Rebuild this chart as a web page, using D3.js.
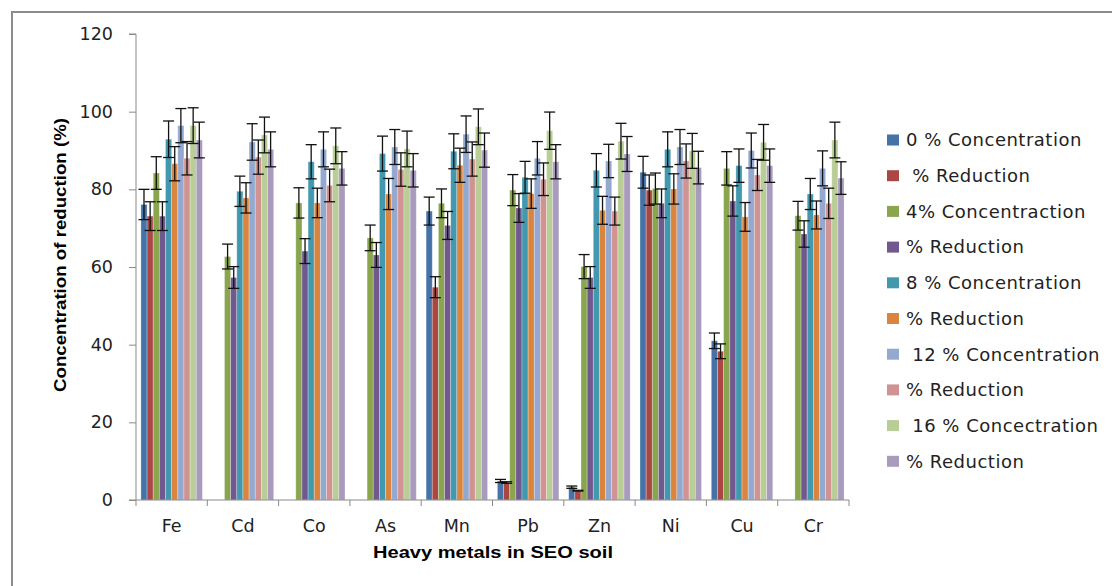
<!DOCTYPE html>
<html>
<head>
<meta charset="utf-8">
<script src="https://cdn.jsdelivr.net/npm/d3@7"></script>
<style>
	body { margin: 0; background: #fff; }
	svg { display: block; }
	text { white-space: pre; }
</style>
</head>
<body>
<div id="chart"></div>
<script>
var metals = ["Fe", "Cd", "Co", "As", "Mn", "Pb", "Zn", "Ni", "Cu", "Cr"];
var seriesNames = ["0 % Concentration", " % Reduction", "4% Concentraction", "% Reduction", "8 % Concentration",
	"% Reduction", " 12 % Concentration", "% Reduction", " 16 % Concectration", "% Reduction"];
var seriesColors = ["#4572A7", "#AA4643", "#89A54E", "#71588F", "#4198AF", "#DB843D", "#93A9CF", "#D19392", "#B9CD96", "#A99BBD"];
var yTicks = [0, 20, 40, 60, 80, 100, 120];

// one array per series, one value per metal (null = no bar)
var conc0 = [76.1, null, null, null, 74.4, 4.9, 3.3, 84.4, 41.0, null];
var red0 = [73.1, null, null, null, 54.8, 4.5, 2.4, 79.8, 38.3, null];
var conc4 = [84.2, 62.7, 76.5, 67.5, 76.4, 79.8, 60.1, 80.2, 85.4, 73.2];
var red4 = [73.1, 57.3, 64.1, 63.1, 70.7, 75.2, 57.3, 76.4, 77.0, 68.5];
var conc8 = [92.9, 79.5, 87.1, 89.2, 89.8, 83.1, 84.9, 90.3, 86.1, 78.8];
var red8 = [86.6, 77.8, 76.5, 78.8, 86.2, 78.9, 74.6, 80.1, 72.9, 73.4];
var conc12 = [96.4, 92.2, 90.3, 90.9, 94.2, 88.0, 87.3, 90.9, 90.0, 85.4];
var red12 = [88.0, 88.3, 81.0, 85.1, 87.8, 82.6, 74.4, 87.3, 83.7, 76.4];
var conc16 = [96.4, 94.0, 91.2, 90.4, 96.1, 95.1, 92.4, 89.9, 92.1, 92.7];
var red16 = [92.7, 90.3, 85.4, 84.9, 90.1, 87.1, 89.1, 85.6, 86.1, 82.9];

// error bar half-lengths
var errConc0 = [3.9, 0, 0, 0, 3.6, 0.4, 0.3, 4.1, 2.0, 0];
var errRed0 = [3.7, 0, 0, 0, 2.7, 0.2, 0.1, 3.9, 1.9, 0];
var errConc4 = [4.2, 3.2, 3.9, 3.3, 3.7, 4.0, 3.1, 4.0, 4.3, 3.7];
var errRed4 = [3.7, 2.8, 3.2, 3.2, 3.6, 3.7, 2.8, 3.7, 3.9, 3.4];
var errConc8 = [4.7, 3.9, 4.4, 4.5, 4.5, 4.1, 4.3, 4.5, 4.3, 4.0];
var errRed8 = [4.4, 3.9, 3.8, 4.0, 4.4, 3.8, 3.6, 3.9, 3.7, 3.6];
var errConc12 = [4.4, 4.7, 4.5, 4.5, 4.7, 4.3, 4.3, 4.5, 4.5, 4.5];
var errRed12 = [4.3, 4.4, 4.2, 4.3, 4.4, 4.2, 3.6, 4.4, 4.0, 3.9];
var errConc16 = [4.6, 4.6, 4.6, 4.6, 4.6, 4.8, 4.6, 4.5, 4.6, 4.6];
var errRed16 = [4.6, 4.5, 4.3, 4.3, 4.4, 4.4, 4.5, 4.2, 4.3, 4.2];

var seriesValues = [conc0, red0, conc4, red4, conc8, red8, conc12, red12, conc16, red16];
var seriesErrors = [errConc0, errRed0, errConc4, errRed4, errConc8, errRed8, errConc12, errRed12, errConc16, errRed16];

var width = 1112,
		height = 586;
var plotLeft = 136,
		plotRight = 849,
		plotTop = 34,
		plotBottom = 500;
var axisColor = "#8a8a8a";

var svg = d3.select("#chart")
	.append("svg")
		.attr("width", width)
		.attr("height", height);

svg.append("rect")
	.attr("width", width)
	.attr("height", height)
	.attr("fill", "#fff");

// outer chart frame (left and top edges visible)
svg.append("path")
	.attr("d", "M12," + height + "V12H" + width)
	.attr("fill", "none")
	.attr("stroke", "#8c8c8c")
	.attr("stroke-width", 2);

var xScale = d3.scaleBand()
	.domain(metals)
	.range([plotLeft, plotRight]);

var xInner = d3.scaleBand()
	.domain(d3.range(seriesNames.length))
	.range([0, xScale.bandwidth()])
	.paddingOuter(0.8);

var yScale = d3.scaleLinear()
	.domain([0, 120])
	.range([plotBottom, plotTop]);

// y axis
var yAxis = d3.axisLeft(yScale)
	.tickValues(yTicks)
	.tickSize(7)
	.tickPadding(16);

var gy = svg.append("g")
	.attr("transform", "translate(" + plotLeft + ",0)")
	.call(yAxis);
gy.select(".domain").attr("stroke", axisColor).attr("d", "M-7," + plotTop + "H0V" + plotBottom + "H-7");
gy.selectAll(".tick line").attr("stroke", axisColor);
gy.selectAll(".tick text")
	.attr("font-family", "DejaVu Sans, Verdana, sans-serif")
	.attr("font-size", "17.5px")
	.attr("fill", "#222");

// bars
var groups = svg.selectAll("g.metal")
	.data(metals)
	.enter()
		.append("g")
		.attr("class", "metal")
		.attr("transform", function(d) { return "translate(" + xScale(d) + ",0)"; });

var barData = function(metal, mi) {
	return seriesValues.map(function(vals, si) {
		return { series: si, value: vals[mi], err: seriesErrors[si][mi] };
	}).filter(function(d) { return d.value != null; });
};

groups.selectAll("rect")
	.data(barData)
	.enter()
		.append("rect")
		.attr("x", function(d) { return xInner(d.series); })
		.attr("width", xInner.bandwidth())
		.attr("y", function(d) { return yScale(d.value); })
		.attr("height", function(d) { return yScale(0) - yScale(d.value); })
		.attr("fill", function(d) { return seriesColors[d.series]; })
		.attr("stroke", "rgba(255,255,255,0.35)")
		.attr("stroke-width", 0.8);

// error bars
var capHalf = 5.5;
var errs = groups.selectAll("g.err")
	.data(barData)
	.enter()
		.append("g")
		.attr("class", "err")
		.attr("stroke", "#111")
		.attr("stroke-width", 1.3);

errs.append("line")
	.attr("x1", function(d) { return xInner(d.series) + xInner.bandwidth() / 2; })
	.attr("x2", function(d) { return xInner(d.series) + xInner.bandwidth() / 2; })
	.attr("y1", function(d) { return yScale(d.value + d.err); })
	.attr("y2", function(d) { return yScale(d.value - d.err); });

errs.selectAll("line.cap")
	.data(function(d) { return [d.value + d.err, d.value - d.err].map(function(v) { return { series: d.series, v: v }; }); })
	.enter()
		.append("line")
		.attr("class", "cap")
		.attr("x1", function(d) { return xInner(d.series) + xInner.bandwidth() / 2 - capHalf; })
		.attr("x2", function(d) { return xInner(d.series) + xInner.bandwidth() / 2 + capHalf; })
		.attr("y1", function(d) { return yScale(d.v); })
		.attr("y2", function(d) { return yScale(d.v); });

// x axis
var xAxis = d3.axisBottom(xScale)
	.tickSize(0)
	.tickPadding(20);

var gx = svg.append("g")
	.attr("transform", "translate(0," + plotBottom + ")")
	.call(xAxis);
gx.select(".domain").attr("stroke", axisColor).attr("d", "M" + plotLeft + ",0H" + plotRight);
gx.selectAll(".tick text")
	.attr("font-family", "DejaVu Sans, Verdana, sans-serif")
	.attr("font-size", "17.5px")
	.attr("fill", "#222");

// category separators
gx.selectAll("line.sep")
	.data(metals.concat(["end"]))
	.enter()
		.append("line")
		.attr("class", "sep")
		.attr("x1", function(d, i) { return i < metals.length ? xScale(d) : plotRight; })
		.attr("x2", function(d, i) { return i < metals.length ? xScale(d) : plotRight; })
		.attr("y1", 0)
		.attr("y2", 6)
		.attr("stroke", axisColor);

// axis titles
svg.append("text")
	.attr("transform", "translate(66," + ((plotTop + plotBottom) / 2 - 12) + ") rotate(-90)")
	.attr("text-anchor", "middle")
	.attr("font-family", "Liberation Sans, Arial, sans-serif")
	.attr("font-weight", "bold")
	.attr("font-size", "16.5px")
	.attr("textLength", 274)
	.attr("lengthAdjust", "spacingAndGlyphs")
	.text("Concentration of reduction (%)");

svg.append("text")
	.attr("x", 493)
	.attr("y", 558)
	.attr("text-anchor", "middle")
	.attr("font-family", "Liberation Sans, Arial, sans-serif")
	.attr("font-weight", "bold")
	.attr("font-size", "16.5px")
	.attr("textLength", 240)
	.attr("lengthAdjust", "spacingAndGlyphs")
	.text("Heavy metals in SEO soil");

// legend
var legend = svg.selectAll("g.legend")
	.data(seriesNames)
	.enter()
		.append("g")
		.attr("class", "legend")
		.attr("transform", function(d, i) { return "translate(887," + (140 + i * 35.7) + ")"; });

legend.append("rect")
	.attr("x", 0)
	.attr("y", -5.5)
	.attr("width", 12)
	.attr("height", 11)
	.attr("fill", function(d, i) { return seriesColors[i]; });

legend.append("text")
	.attr("x", 19)
	.attr("y", 0)
	.attr("dy", "0.35em")
	.attr("font-family", "DejaVu Sans, Verdana, sans-serif")
	.attr("font-size", "18px")
	.attr("letter-spacing", "0.5px")
	.attr("fill", "#222")
	.text(function(d) { return d; });
</script>
</body>
</html>
